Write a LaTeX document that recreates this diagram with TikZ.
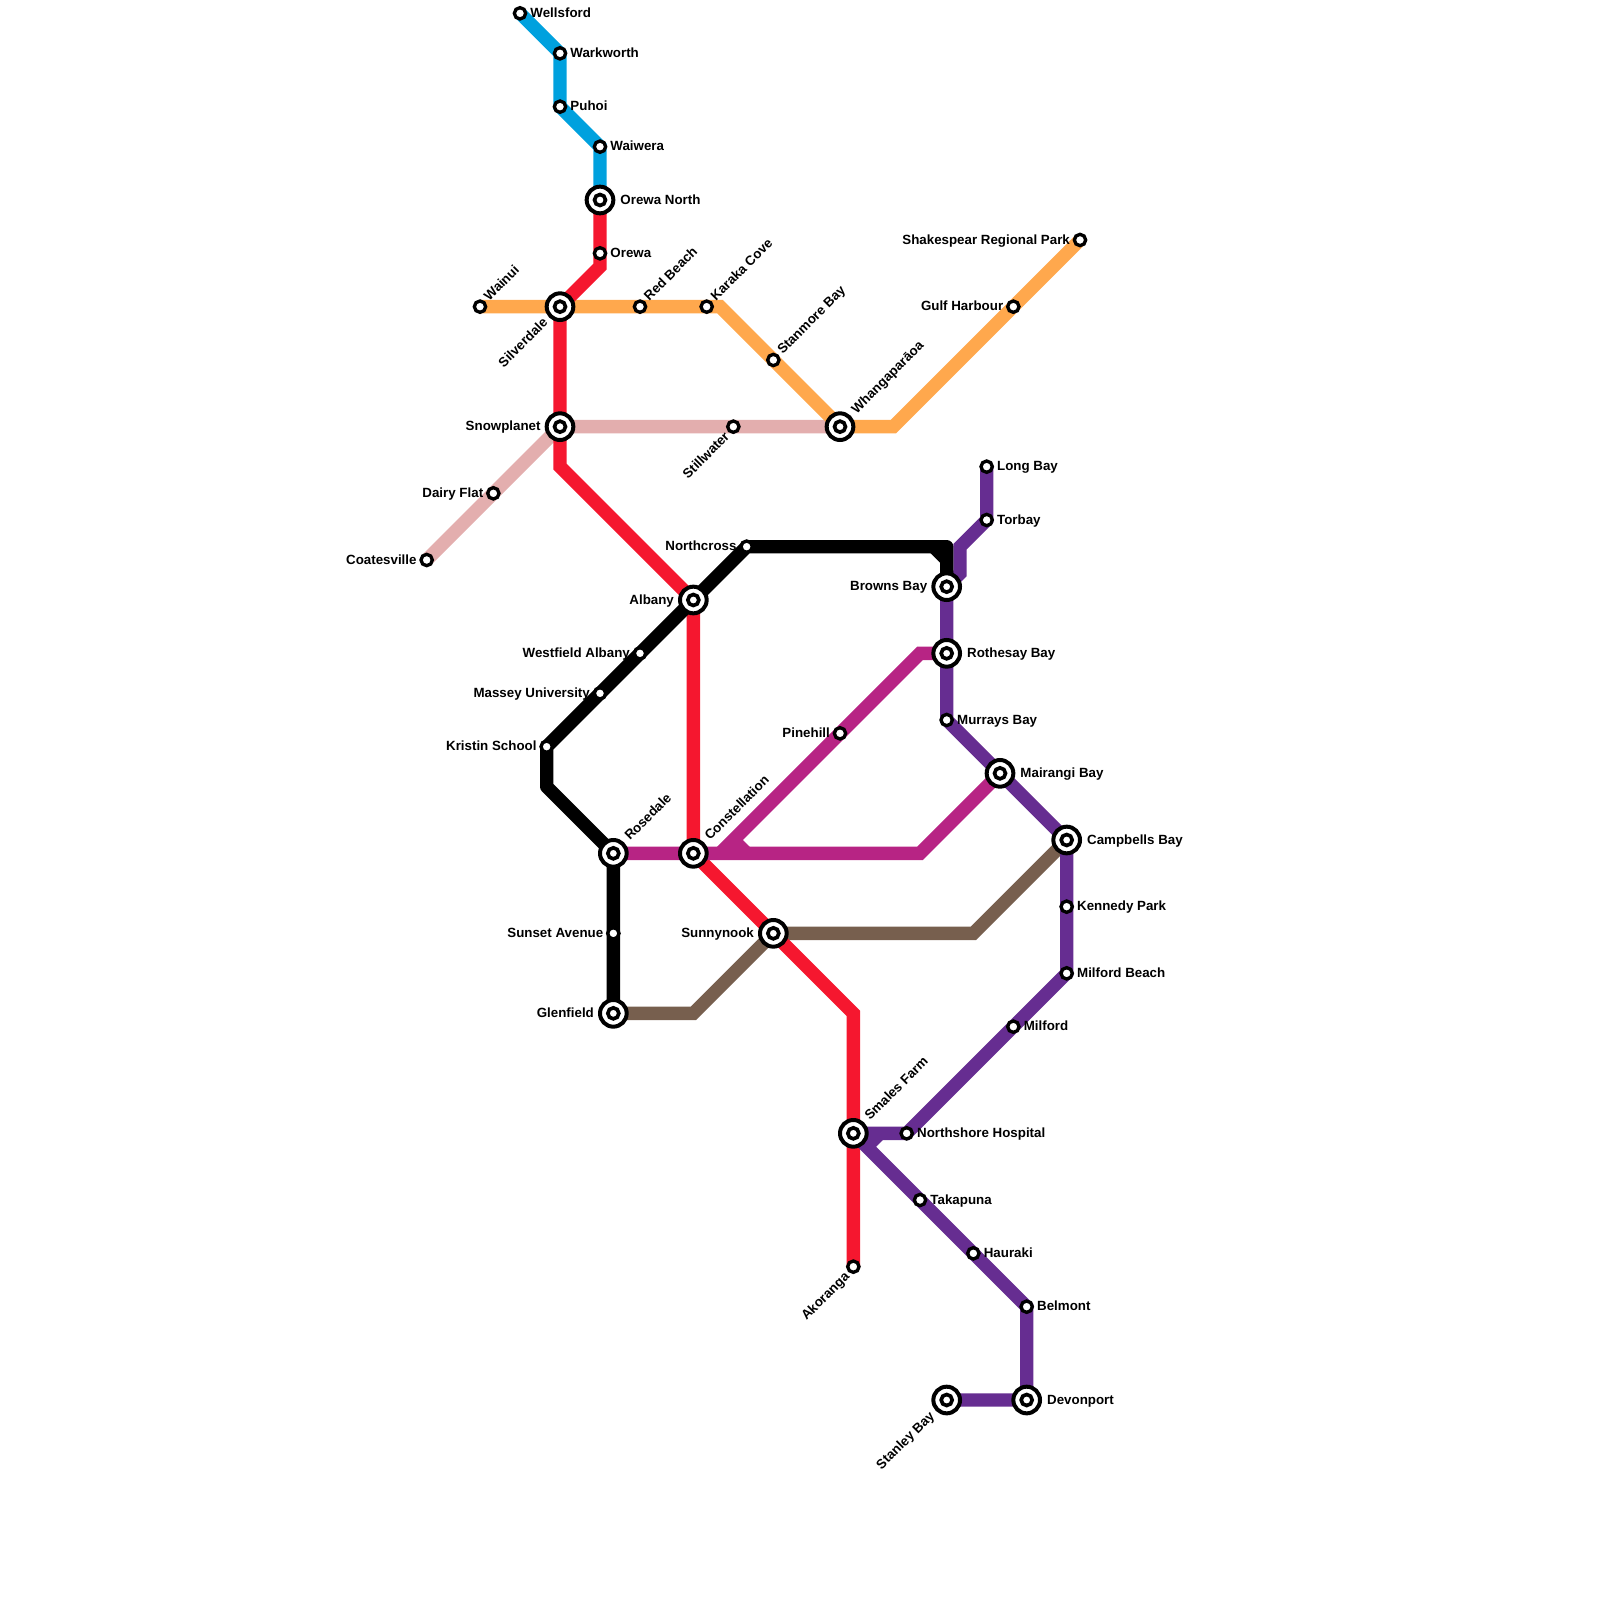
\documentclass[tikz,border=0pt]{standalone}
\usepackage{fontspec}
\setmainfont{Liberation Sans}
\usetikzlibrary{backgrounds}
\definecolor{lblue}{HTML}{00A1DE}
\definecolor{lred}{HTML}{F5172F}
\definecolor{lorange}{HTML}{FFA84D}
\definecolor{lpink}{HTML}{E3AEAE}
\definecolor{lpurple}{HTML}{662D91}
\definecolor{lmag}{HTML}{B72484}
\definecolor{lbrown}{HTML}{775F4E}
\tikzset{
  metro/.style={line width=.2cm,line join=miter},
  smallst/.style={circle,draw=black,fill=white,line width=.05cm,minimum size=.17cm,inner sep=0pt,outer sep=0pt},
  hubin/.style={circle,draw=black,fill=white,line width=.055cm,minimum size=.165cm,inner sep=0pt,outer sep=0pt},
  hubst/.style={circle,draw=black,fill=white,line width=.06cm,minimum size=.4cm,inner sep=0pt,outer sep=0pt},
  lab/.style={font=\bfseries\fontsize{5.69pt}{6.8pt}\selectfont,text=black,inner sep=0pt,text height=.72em,text depth=.1em},
  R/.style={lab,anchor=west,xshift=.15cm,yshift=.045cm},
  L/.style={lab,anchor=east,xshift=-.145cm,yshift=.045cm},
  HR/.style={lab,anchor=west,xshift=.3cm,yshift=.045cm},
  HL/.style={lab,anchor=east,xshift=-.285cm,yshift=.045cm},
  NE/.style={lab,anchor=west,xshift=.06cm,yshift=.15cm,rotate=45},
  SW/.style={lab,anchor=east,xshift=-.12cm,yshift=-.08cm,rotate=45},
  HNE/.style={lab,anchor=west,xshift=.17cm,yshift=.26cm,rotate=45},
  HSW/.style={lab,anchor=east,xshift=-.245cm,yshift=-.17cm,rotate=45},
}
% simple station: name, position, label style, text
\newcommand{\stnode}[4]{\node[smallst] (#1) at (#2) {}; \node[#3] (#1-lab) at (#2) {#4};}
% interchange: name, position, label style, text
\newcommand{\hubnode}[4]{\node[hubst] (#1) at (#2) {}; \node[hubin] (#1-in) at (#2) {}; \node[#3] (#1-lab) at (#2) {#4};}
\begin{document}
\begin{tikzpicture}[x=.2cm,y=-.2cm]
\useasboundingbox (0,0) rectangle (120,120);
% stations
\stnode{wellsford}{39,1}{R}{Wellsford}
\stnode{warkworth}{42,4}{R}{Warkworth}
\stnode{puhoi}{42,8}{R}{Puhoi}
\stnode{waiwera}{45,11}{R}{Waiwera}
\hubnode{orewan}{45,15}{HR}{Orewa North}
\stnode{orewa}{45,19}{R}{Orewa}
\stnode{wainui}{36,23}{NE}{Wainui}
\hubnode{silverdale}{42,23}{HSW}{Silverdale}
\stnode{redbeach}{48,23}{NE}{Red Beach}
\stnode{karaka}{53,23}{NE}{Karaka Cove}
\stnode{stanmore}{58,27}{NE}{Stanmore Bay}
\hubnode{whanga}{63,32}{HNE}{Whangaparāoa}
\stnode{gulf}{76,23}{L}{Gulf Harbour}
\stnode{shakespear}{81,18}{L}{Shakespear Regional Park}
\hubnode{snowplanet}{42,32}{HL}{Snowplanet}
\stnode{stillwater}{55,32}{SW}{Stillwater}
\stnode{dairy}{37,37}{L}{Dairy Flat}
\stnode{coatesville}{32,42}{L}{Coatesville}
\stnode{longbay}{74,35}{R}{Long Bay}
\stnode{torbay}{74,39}{R}{Torbay}
\stnode{northcross}{56,41}{L}{Northcross}
\hubnode{browns}{71,44}{HL}{Browns Bay}
\hubnode{albany}{52,45}{HL}{Albany}
\hubnode{rothesay}{71,49}{HR}{Rothesay Bay}
\stnode{westfield}{48,49}{L}{Westfield Albany}
\stnode{massey}{45,52}{L}{Massey University}
\stnode{murrays}{71,54}{R}{Murrays Bay}
\stnode{pinehill}{63,55}{L}{Pinehill}
\stnode{kristin}{41,56}{L}{Kristin School}
\hubnode{mairangi}{75,58}{HR}{Mairangi Bay}
\hubnode{campbells}{80,63}{HR}{Campbells Bay}
\hubnode{rosedale}{46,64}{HNE}{Rosedale}
\hubnode{constellation}{52,64}{HNE}{Constellation}
\stnode{kennedy}{80,68}{R}{Kennedy Park}
\hubnode{sunnynook}{58,70}{HL}{Sunnynook}
\stnode{sunset}{46,70}{L}{Sunset Avenue}
\stnode{milfordb}{80,73}{R}{Milford Beach}
\hubnode{glenfield}{46,76}{HL}{Glenfield}
\stnode{milford}{76,77}{R}{Milford}
\hubnode{smales}{64,85}{HNE}{Smales Farm}
\stnode{northshore}{68,85}{R}{Northshore Hospital}
\stnode{takapuna}{69,90}{R}{Takapuna}
\stnode{hauraki}{73,94}{R}{Hauraki}
\stnode{akoranga}{64,95}{SW}{Akoranga}
\stnode{belmont}{77,98}{R}{Belmont}
\hubnode{stanley}{71,105}{HSW}{Stanley Bay}
\hubnode{devonport}{77,105}{HR}{Devonport}
% bends
\coordinate (bA) at (45,20);
\coordinate (bB) at (42,35);
\coordinate (bC) at (64,76);
\coordinate (bD) at (54,23);
\coordinate (bE) at (67,32);
\coordinate (bF) at (41,59);
\coordinate (bG) at (70,41);
\coordinate (bH) at (71,41);
\coordinate (bI) at (71,42);
\coordinate (bJ) at (72,41);
\coordinate (bK) at (72,43);
\coordinate (bL) at (69,64);
\coordinate (bM) at (69,49);
\coordinate (bN) at (54,64);
\coordinate (bO) at (55,63);
\coordinate (bP) at (56,64);
\coordinate (bQ) at (52,76);
\coordinate (bR) at (73,70);
\coordinate (bS) at (66,85);
\coordinate (bT) at (65,86);
\begin{scope}[on background layer]
\draw[metro,lpink] (coatesville.center) -- (dairy.center) -- (snowplanet.center) -- (stillwater.center) -- (whanga.center);
\draw[metro,lorange] (wainui.center) -- (silverdale.center) -- (redbeach.center) -- (karaka.center) -- (bD) -- (stanmore.center) -- (whanga.center) -- (bE) -- (gulf.center) -- (shakespear.center);
\draw[metro,lblue] (wellsford.center) -- (warkworth.center) -- (puhoi.center) -- (waiwera.center) -- (orewan.center);
\draw[metro,lbrown] (glenfield.center) -- (bQ) -- (sunnynook.center) -- (bR) -- (campbells.center);
\draw[metro,lred] (orewan.center) -- (orewa.center) -- (bA) -- (silverdale.center) -- (snowplanet.center) -- (bB) -- (albany.center) -- (constellation.center) -- (sunnynook.center) -- (bC) -- (smales.center) -- (akoranga.center);
\draw[metro,lmag] (rosedale.center) -- (constellation.center) -- (bL) -- (mairangi.center);
\draw[metro,lmag] (rothesay.center) -- (bM) -- (pinehill.center) -- (bN);
\draw[metro,lmag] (bO) -- (bP);
\draw[metro,lpurple] (longbay.center) -- (torbay.center) -- (bJ) -- (bK) -- (browns.center) -- (rothesay.center) -- (murrays.center) -- (mairangi.center) -- (campbells.center) -- (kennedy.center) -- (milfordb.center) -- (milford.center) -- (northshore.center) -- (smales.center);
\draw[metro,lpurple] (smales.center) -- (takapuna.center) -- (hauraki.center) -- (belmont.center) -- (devonport.center) -- (stanley.center);
\draw[metro,lpurple] (bS) -- (bT);
\draw[metro,black,line join=round] (glenfield.center) -- (sunset.center) -- (rosedale.center) -- (bF) -- (kristin.center) -- (massey.center) -- (westfield.center) -- (albany.center) -- (northcross.center) -- (bH) -- (browns.center);
\draw[metro,black] (bG) -- (bI);
\end{scope}
\end{tikzpicture}
\end{document}
